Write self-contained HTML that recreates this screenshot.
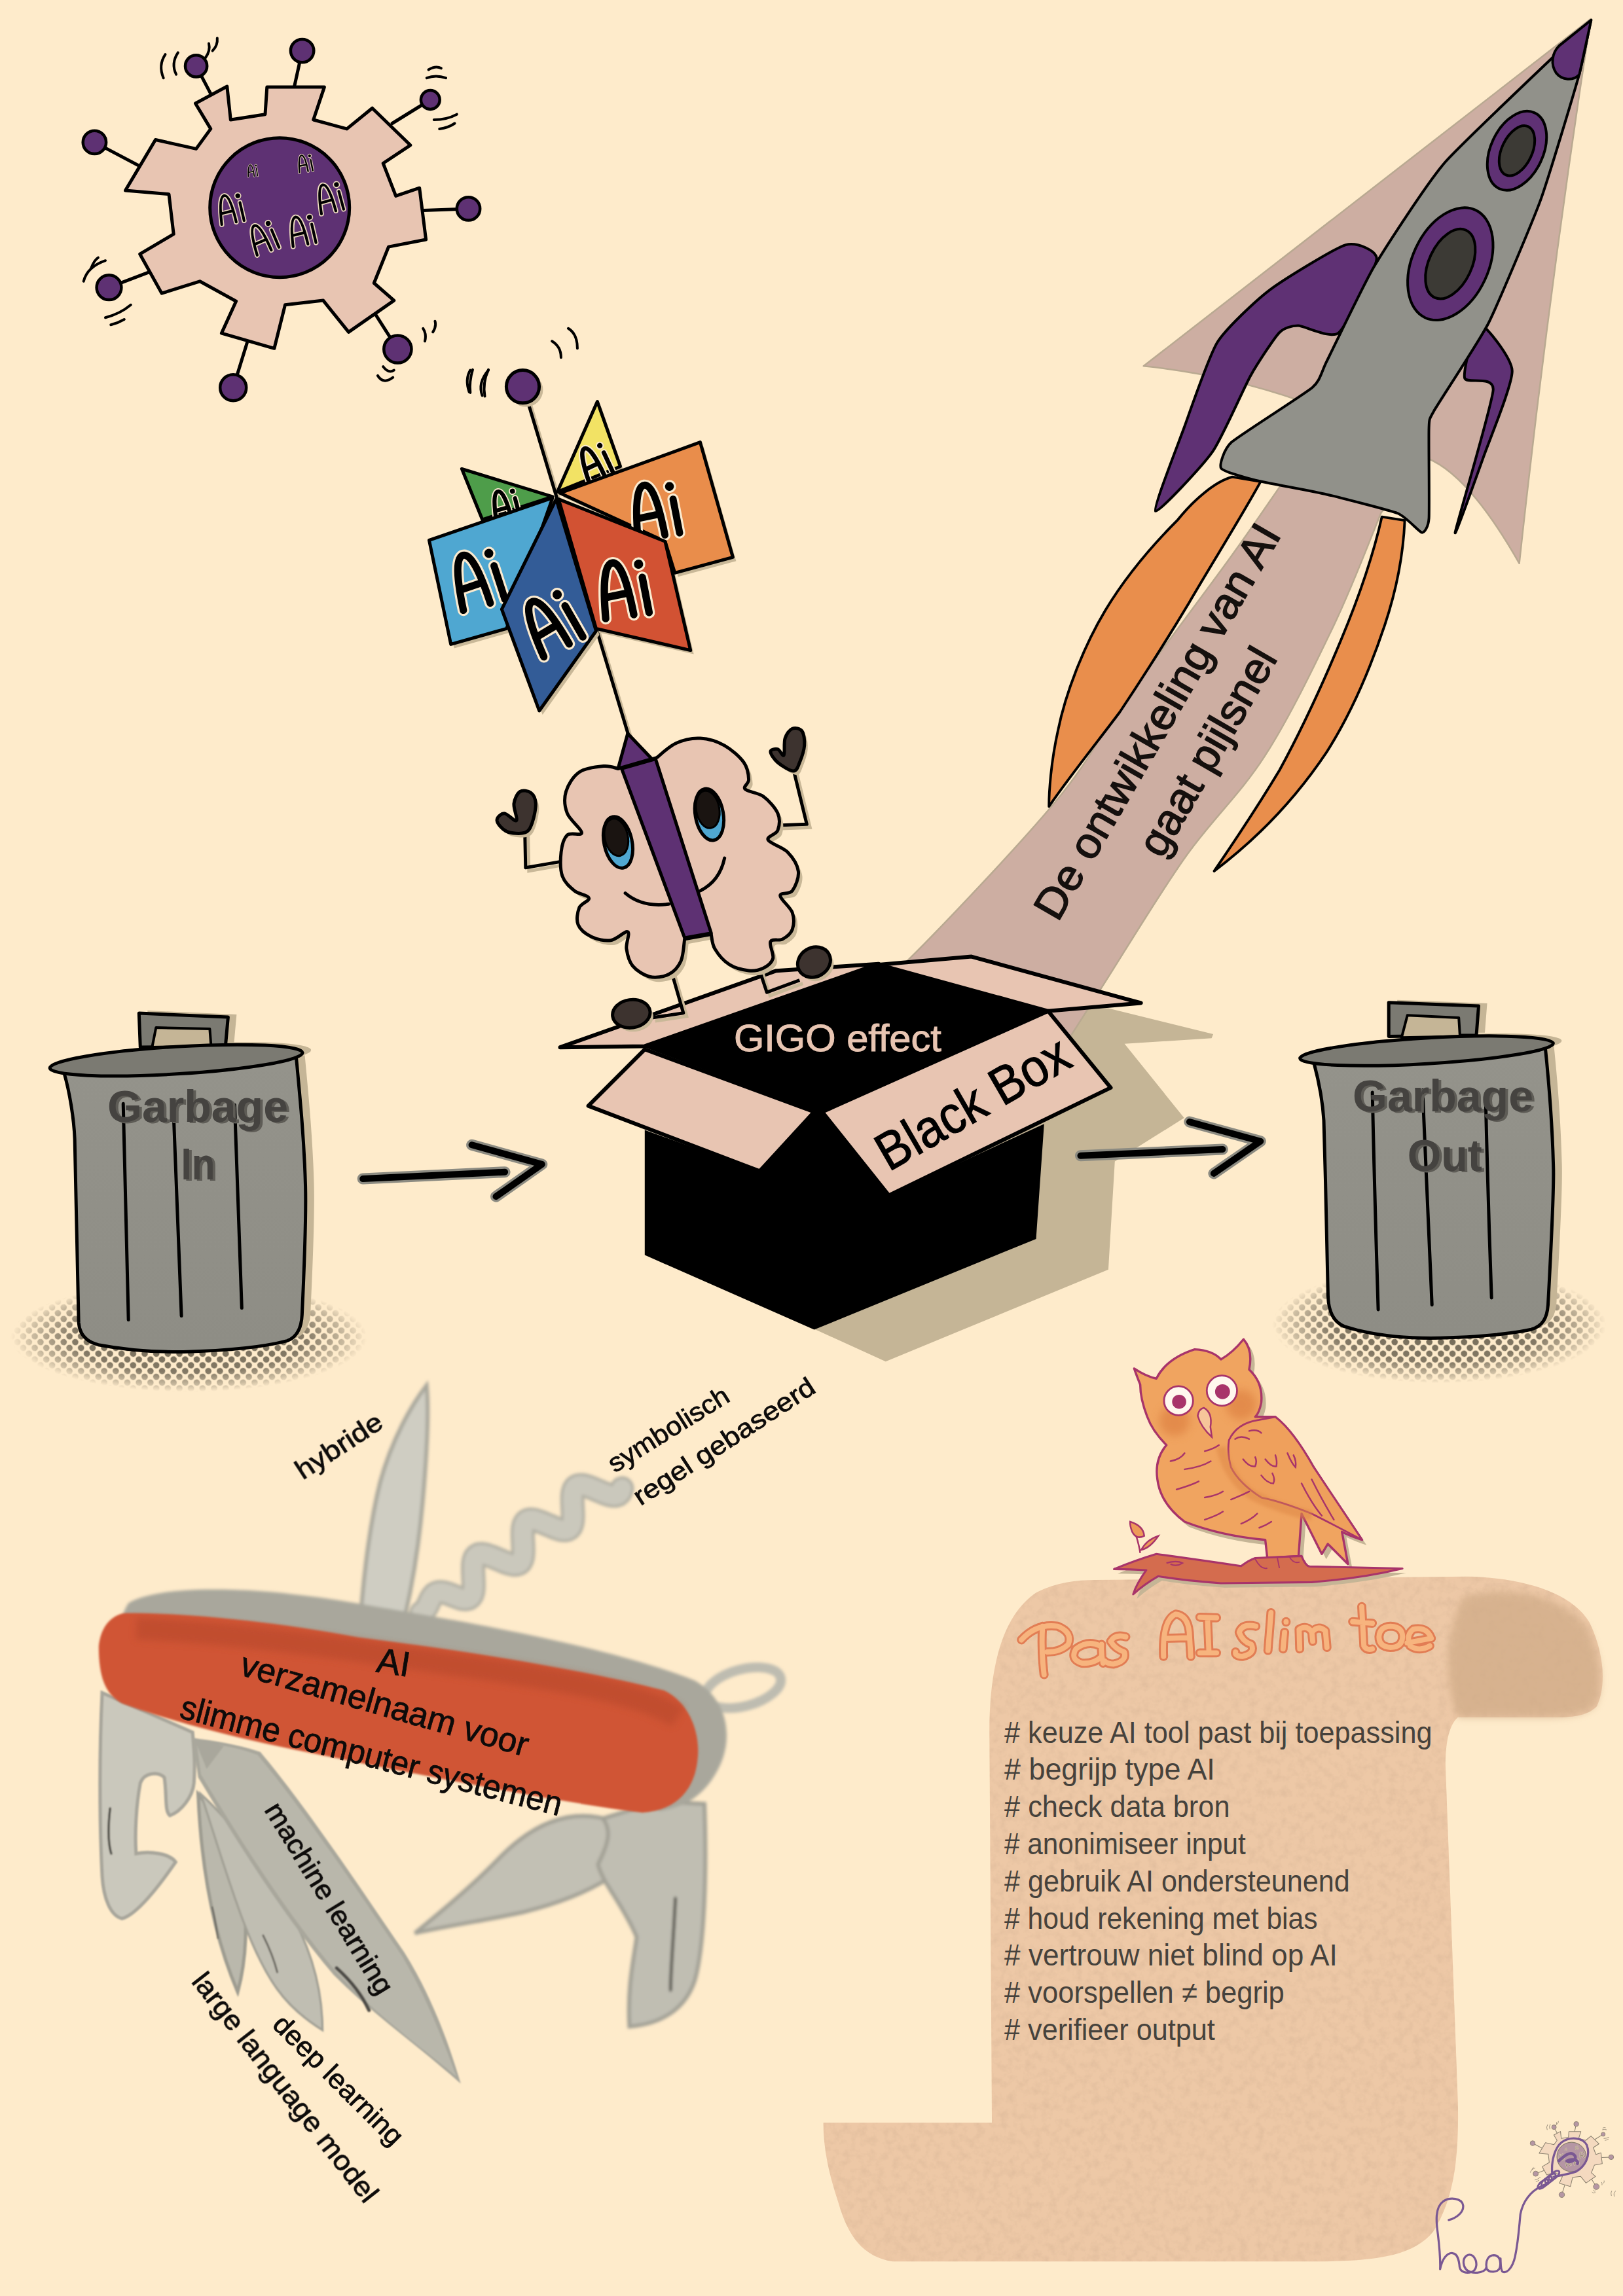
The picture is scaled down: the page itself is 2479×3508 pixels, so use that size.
<!DOCTYPE html>
<html><head><meta charset="utf-8"><title>AI poster</title>
<style>html,body{margin:0;padding:0;background:#FEEBCB;}svg{display:block;}</style></head>
<body><svg width="2479" height="3508" viewBox="0 0 2479 3508" font-family="Liberation Sans, sans-serif">
<defs>
<pattern id="dots" width="12.5" height="12.5" patternUnits="userSpaceOnUse" patternTransform="rotate(45)"><circle cx="6.25" cy="6.25" r="4.9" fill="#6E6553"/></pattern>
<radialGradient id="halog"><stop offset="0" stop-color="#fff" stop-opacity="1"/><stop offset="0.65" stop-color="#fff" stop-opacity="0.85"/><stop offset="0.88" stop-color="#fff" stop-opacity="0.35"/><stop offset="1" stop-color="#fff" stop-opacity="0"/></radialGradient>
<mask id="halomask" maskContentUnits="objectBoundingBox"><rect x="0" y="0" width="1" height="1" fill="url(#halog)"/></mask>
<linearGradient id="cangrad" x1="0" y1="0" x2="0" y2="1"><stop offset="0" stop-color="#94938B"/><stop offset="1" stop-color="#8E8D85"/></linearGradient>
<filter id="soft" x="-10%" y="-10%" width="120%" height="120%"><feGaussianBlur stdDeviation="3"/></filter>
<filter id="soft2" x="-10%" y="-10%" width="120%" height="120%"><feGaussianBlur stdDeviation="2.5"/></filter>
<filter id="blur20" x="-50%" y="-50%" width="200%" height="200%"><feGaussianBlur stdDeviation="20"/></filter>
<filter id="blur8" x="-50%" y="-50%" width="200%" height="200%"><feGaussianBlur stdDeviation="8"/></filter>
<filter id="paper" x="0" y="0" width="100%" height="100%"><feTurbulence type="fractalNoise" baseFrequency="0.06" numOctaves="3" seed="3"/><feColorMatrix type="matrix" values="0 0 0 0 0.45  0 0 0 0 0.3  0 0 0 0 0.2  0 0 0 2.2 -0.9"/><feComposite in2="SourceGraphic" operator="in"/></filter>
</defs>
<rect width="2479" height="3508" fill="#FEEBCB"/>
<line x1="449.4" y1="133.1" x2="461.6" y2="77.6" stroke="#000" stroke-width="5" stroke-linecap="round"/>
<line x1="321.8" y1="143.1" x2="299.6" y2="100.9" stroke="#000" stroke-width="5" stroke-linecap="round"/>
<line x1="213.7" y1="254" x2="144.4" y2="217.4" stroke="#000" stroke-width="5" stroke-linecap="round"/>
<line x1="227.5" y1="415.9" x2="166.5" y2="439.2" stroke="#000" stroke-width="5" stroke-linecap="round"/>
<line x1="377.3" y1="524" x2="356.2" y2="592.2" stroke="#000" stroke-width="5" stroke-linecap="round"/>
<line x1="571.3" y1="476.9" x2="607.4" y2="533.5" stroke="#000" stroke-width="5" stroke-linecap="round"/>
<line x1="646.2" y1="321.6" x2="715.5" y2="318.9" stroke="#000" stroke-width="5" stroke-linecap="round"/>
<line x1="599.1" y1="188.5" x2="657.3" y2="152.5" stroke="#000" stroke-width="5" stroke-linecap="round"/>
<circle cx="461.6" cy="77.6" r="17.7" fill="#5E3173" stroke="#000" stroke-width="4.5"/>
<circle cx="299.6" cy="100.9" r="16.6" fill="#5E3173" stroke="#000" stroke-width="4.5"/>
<circle cx="144.4" cy="217.4" r="17.7" fill="#5E3173" stroke="#000" stroke-width="4.5"/>
<circle cx="166.5" cy="439.2" r="18.9" fill="#5E3173" stroke="#000" stroke-width="4.5"/>
<circle cx="356.2" cy="592.2" r="20" fill="#5E3173" stroke="#000" stroke-width="4.5"/>
<circle cx="607.4" cy="533.5" r="21.1" fill="#5E3173" stroke="#000" stroke-width="4.5"/>
<circle cx="715.5" cy="318.9" r="17.7" fill="#5E3173" stroke="#000" stroke-width="4.5"/>
<circle cx="657.3" cy="152.5" r="14.4" fill="#5E3173" stroke="#000" stroke-width="4.5"/>
<path d="M407.8,133.1 L495.4,133.1 L478.7,183 L529.8,196.9 L568.6,165.2 L626.8,221.8 L585.2,249.5 L604.6,299.4 L640.7,287.2 L650.6,366 L593.5,377.1 L571.3,432.5 L601.8,459.1 L532.5,507.4 L493.7,459.1 L435.5,465.8 L418.9,532.3 L338.4,509.1 L360.6,460.3 L305.2,429.8 L247,448.1 L213.7,388.2 L265.2,357.7 L258,296.7 L191.5,291.1 L237.5,213.5 L299.6,227.4 L321.8,196.9 L298.5,158 L346.8,132 L352.3,183 L405,174.7 Z" fill="#E8C5B2" stroke="#000" stroke-width="5" stroke-linejoin="round"/>
<circle cx="427.2" cy="317.2" r="106.5" fill="#5E3173" stroke="#000" stroke-width="5"/>
<path d="M249.7,119.2 Q241.4,99.8 252.5,83.2" fill="none" stroke="#000" stroke-width="4" stroke-linecap="round"/>
<path d="M269.1,113.7 Q260.8,97 271.9,80.4" fill="none" stroke="#000" stroke-width="4" stroke-linecap="round"/>
<path d="M313.5,88.7 Q321.8,77.6 319,66.5" fill="none" stroke="#000" stroke-width="4" stroke-linecap="round"/>
<path d="M324.6,77.6 Q332.9,69.3 331.8,58.2" fill="none" stroke="#000" stroke-width="4" stroke-linecap="round"/>
<path d="M651.8,119.2 Q665.6,113.7 681.1,119.2" fill="none" stroke="#000" stroke-width="4" stroke-linecap="round"/>
<path d="M654.5,106.5 Q665.6,99.8 673.9,104.3" fill="none" stroke="#000" stroke-width="4" stroke-linecap="round"/>
<path d="M662.8,183 Q682.3,183 697.8,174.7" fill="none" stroke="#000" stroke-width="4" stroke-linecap="round"/>
<path d="M671.2,196.9 Q685,195.2 694.5,188.5" fill="none" stroke="#000" stroke-width="4" stroke-linecap="round"/>
<path d="M127.7,429.8 Q133.3,407.6 161,398.2" fill="none" stroke="#000" stroke-width="4" stroke-linecap="round"/>
<path d="M138.8,410.4 Q144.4,396.5 149.9,393.7" fill="none" stroke="#000" stroke-width="4" stroke-linecap="round"/>
<path d="M161,485.2 Q183.2,479.7 199.8,465.8" fill="none" stroke="#000" stroke-width="4" stroke-linecap="round"/>
<path d="M169.3,496.3 Q180.4,493.5 189.8,488" fill="none" stroke="#000" stroke-width="4" stroke-linecap="round"/>
<path d="M649,521.3 Q651.8,510.2 646.2,501.8" fill="none" stroke="#000" stroke-width="4" stroke-linecap="round"/>
<path d="M661.2,507.4 Q666.7,499.1 664.5,490.8" fill="none" stroke="#000" stroke-width="4" stroke-linecap="round"/>
<path d="M576.9,573.9 Q585.2,587.8 600.2,576.7" fill="none" stroke="#000" stroke-width="4" stroke-linecap="round"/>
<path d="M585.2,560.1 Q593.5,571.2 601.8,565.6" fill="none" stroke="#000" stroke-width="4" stroke-linecap="round"/>
<path d="M716.6,598.9 Q710,579.5 718.3,565.6" fill="none" stroke="#000" stroke-width="4" stroke-linecap="round"/>
<path d="M736.6,604.4 Q729.4,585 746,565.6" fill="none" stroke="#000" stroke-width="4" stroke-linecap="round"/>
<path d="M843.1,521.3 Q856.9,529.6 856.9,546.2" fill="none" stroke="#000" stroke-width="4" stroke-linecap="round"/>
<path d="M868,501.8 Q881.9,510.2 881.9,532.3" fill="none" stroke="#000" stroke-width="4" stroke-linecap="round"/>
<g transform="translate(352.3,318.9) rotate(-10.0) scale(48.80) translate(-0.36,-0.56)" fill="none" stroke-linecap="round" stroke-linejoin="round"><path d="M0,1 C0.03,0.45 0.1,0.12 0.23,0.12 C0.36,0.12 0.43,0.45 0.46,1 M0.08,0.66 L0.38,0.64 M0.68,0.42 L0.71,1" stroke="#EBD9BE" stroke-width="0.155"/><circle cx="0.65" cy="0.2" r="0.110" fill="#EBD9BE" stroke="none"/><path d="M0,1 C0.03,0.45 0.1,0.12 0.23,0.12 C0.36,0.12 0.43,0.45 0.46,1 M0.08,0.66 L0.38,0.64 M0.68,0.42 L0.71,1" stroke="#000" stroke-width="0.085"/><circle cx="0.65" cy="0.2" r="0.075" fill="#000" stroke="none"/></g>
<g transform="translate(402.2,363.2) rotate(-20.0) scale(49.91) translate(-0.36,-0.56)" fill="none" stroke-linecap="round" stroke-linejoin="round"><path d="M0,1 C0.03,0.45 0.1,0.12 0.23,0.12 C0.36,0.12 0.43,0.45 0.46,1 M0.08,0.66 L0.38,0.64 M0.68,0.42 L0.71,1" stroke="#EBD9BE" stroke-width="0.155"/><circle cx="0.65" cy="0.2" r="0.110" fill="#EBD9BE" stroke="none"/><path d="M0,1 C0.03,0.45 0.1,0.12 0.23,0.12 C0.36,0.12 0.43,0.45 0.46,1 M0.08,0.66 L0.38,0.64 M0.68,0.42 L0.71,1" stroke="#000" stroke-width="0.085"/><circle cx="0.65" cy="0.2" r="0.075" fill="#000" stroke="none"/></g>
<g transform="translate(461.6,352.1) rotate(-10.0) scale(49.91) translate(-0.36,-0.56)" fill="none" stroke-linecap="round" stroke-linejoin="round"><path d="M0,1 C0.03,0.45 0.1,0.12 0.23,0.12 C0.36,0.12 0.43,0.45 0.46,1 M0.08,0.66 L0.38,0.64 M0.68,0.42 L0.71,1" stroke="#EBD9BE" stroke-width="0.155"/><circle cx="0.65" cy="0.2" r="0.110" fill="#EBD9BE" stroke="none"/><path d="M0,1 C0.03,0.45 0.1,0.12 0.23,0.12 C0.36,0.12 0.43,0.45 0.46,1 M0.08,0.66 L0.38,0.64 M0.68,0.42 L0.71,1" stroke="#000" stroke-width="0.085"/><circle cx="0.65" cy="0.2" r="0.075" fill="#000" stroke="none"/></g>
<g transform="translate(503.7,302.2) rotate(-12.0) scale(48.80) translate(-0.36,-0.56)" fill="none" stroke-linecap="round" stroke-linejoin="round"><path d="M0,1 C0.03,0.45 0.1,0.12 0.23,0.12 C0.36,0.12 0.43,0.45 0.46,1 M0.08,0.66 L0.38,0.64 M0.68,0.42 L0.71,1" stroke="#EBD9BE" stroke-width="0.155"/><circle cx="0.65" cy="0.2" r="0.110" fill="#EBD9BE" stroke="none"/><path d="M0,1 C0.03,0.45 0.1,0.12 0.23,0.12 C0.36,0.12 0.43,0.45 0.46,1 M0.08,0.66 L0.38,0.64 M0.68,0.42 L0.71,1" stroke="#000" stroke-width="0.085"/><circle cx="0.65" cy="0.2" r="0.075" fill="#000" stroke="none"/></g>
<g transform="translate(466.0,249.5) rotate(-8.0) scale(28.84) translate(-0.36,-0.56)" fill="none" stroke-linecap="round" stroke-linejoin="round"><path d="M0,1 C0.03,0.45 0.1,0.12 0.23,0.12 C0.36,0.12 0.43,0.45 0.46,1 M0.08,0.66 L0.38,0.64 M0.68,0.42 L0.71,1" stroke="#EBD9BE" stroke-width="0.155"/><circle cx="0.65" cy="0.2" r="0.110" fill="#EBD9BE" stroke="none"/><path d="M0,1 C0.03,0.45 0.1,0.12 0.23,0.12 C0.36,0.12 0.43,0.45 0.46,1 M0.08,0.66 L0.38,0.64 M0.68,0.42 L0.71,1" stroke="#000" stroke-width="0.085"/><circle cx="0.65" cy="0.2" r="0.075" fill="#000" stroke="none"/></g>
<g transform="translate(385.6,260.6) rotate(-5.0) scale(19.96) translate(-0.36,-0.56)" fill="none" stroke-linecap="round" stroke-linejoin="round"><path d="M0,1 C0.03,0.45 0.1,0.12 0.23,0.12 C0.36,0.12 0.43,0.45 0.46,1 M0.08,0.66 L0.38,0.64 M0.68,0.42 L0.71,1" stroke="#EBD9BE" stroke-width="0.155"/><circle cx="0.65" cy="0.2" r="0.110" fill="#EBD9BE" stroke="none"/><path d="M0,1 C0.03,0.45 0.1,0.12 0.23,0.12 C0.36,0.12 0.43,0.45 0.46,1 M0.08,0.66 L0.38,0.64 M0.68,0.42 L0.71,1" stroke="#000" stroke-width="0.085"/><circle cx="0.65" cy="0.2" r="0.075" fill="#000" stroke="none"/></g>
<path d="M1244.4,2030.9 L1352.8,2080.2 L1692.9,1939.7 L1702.8,1774.6 L1808.7,1708.1 L1717.6,1594.7 L1850.6,1586.3 L1853.1,1579.9 L1692.9,1540.5 L1594.3,1542.9 L1446.5,1646.5 L1244.4,1745 Z" fill="#C5B596"/>
<path d="M2429.6,29 L1746.7,559.3 Q1870,572 1985,612 L1954.3,744.4 C1941.4,762.8 1915.5,801.7 1876.7,855.3 C1837.9,908.9 1765.8,1004.1 1721.4,1066 C1677.1,1127.9 1666,1160.3 1610.5,1226.8 C1555.1,1293.3 1434.9,1419.7 1388.7,1465.2 C1342.5,1510.8 1351.8,1483.5 1333.3,1500.2 C1314.8,1516.8 1287.1,1554.3 1277.8,1565.1 L1632.7,1587.2 C1642,1572.7 1658.6,1546.4 1688.2,1500.2 C1717.7,1454 1769.5,1367.6 1810.2,1310 C1850.8,1252.4 1894.3,1213.9 1932.2,1154.7 C1970.1,1095.6 2007.9,1017 2037.5,955.1 C2067.1,893.2 2097.6,811.8 2109.6,783.2 L2180,700 Q2244,726 2320.6,860.8 Q2365,450 2429.6,29 Z" fill="#CDAEA2" stroke="#B9A991" stroke-width="2.5" stroke-linejoin="round"/>
<text x="1787" y="1113.5" font-size="66" text-anchor="middle" transform="rotate(-60 1787 1113.5)" font-family="Liberation Sans" fill="#15100E" stroke="#15100E" stroke-width="1.5" textLength="685" lengthAdjust="spacingAndGlyphs">De ontwikkeling van AI</text>
<text x="1863.8" y="1159.6" font-size="66" text-anchor="middle" transform="rotate(-60 1863.8 1159.6)" font-family="Liberation Sans" fill="#15100E" stroke="#15100E" stroke-width="1.5" textLength="355" lengthAdjust="spacingAndGlyphs">gaat pijlsnel</text>
<g transform="translate(1300,600) scale(0.55453)" fill="#E98E4C" stroke="#000" stroke-width="7" stroke-linejoin="round">
<path d="M1050,232 C1000,245 940,300 900,350 C830,420 760,500 700,600 C640,700 590,830 570,930 C550,1020 545,1100 545,1140 C600,1060 680,960 740,880 C800,790 870,680 930,580 C1000,460 1070,350 1128,245 Z"/>
<path d="M1462,342 L1525,352 C1522,420 1510,520 1470,640 C1430,760 1380,880 1310,990 C1230,1110 1130,1220 1000,1318 C1060,1230 1120,1140 1180,1040 C1240,930 1300,800 1350,680 C1400,560 1440,440 1462,342 Z"/>
</g>
<path d="M2102.7,395.9 C2103.8,382.5 2071.8,369.4 2055.5,374.1 C2039.1,378.8 1958.9,428.2 1939.3,443.1 C1919.6,458 1872.4,502 1859.4,523 C1846.3,544.1 1817.9,628 1808.5,653.8 C1799.1,679.6 1760.6,777.3 1764.9,780.9 C1769.3,784.5 1837.6,710.8 1852.1,690.1 C1866.6,669.4 1900,592 1910.2,573.9 C1920.4,555.7 1946.5,516.1 1953.8,508.5 C1961.1,500.9 1973.8,497.6 1982.8,497.6 C1991.9,497.6 2032.6,518.7 2044.6,508.5 C2056.6,498.3 2101.6,409.3 2102.7,395.9 Z" fill="#5F3174" stroke="#000" stroke-width="4" stroke-linejoin="round"/>
<path d="M2258.9,494 C2266.2,492.9 2309,546.3 2309.7,566.6 C2310.5,587 2274.9,672.7 2266.2,697.4 C2257.4,722.1 2221.1,823.8 2222.6,813.6 C2224,803.4 2279.2,619.3 2280.7,595.7 C2282.1,572.1 2239.3,587.7 2237.1,577.5 C2234.9,567.3 2251.6,495.1 2258.9,494 Z" fill="#5F3174" stroke="#000" stroke-width="4" stroke-linejoin="round"/>
<path d="M2429.6,32.7 C2411.1,50.5 2235.6,215.8 2208,247 C2180.5,278.2 2114.2,381.4 2099.1,406.8 C2083.9,432.2 2034.3,536.7 2026.4,552.1 C2018.6,567.5 2016.7,581.8 2004.6,592 C1992.5,602.3 1892.8,665.3 1881.1,675.6 C1869.5,685.9 1862.1,710.7 1865.2,715.5 C1868.2,720.4 1904,730.4 1917.5,733.7 C1930.9,737 2008.3,751.3 2026.4,755.5 C2044.6,759.7 2123.3,779.7 2135.4,784.5 C2147.5,789.4 2167.8,813 2171.7,813.6 C2175.7,814.2 2181.7,805.1 2182.6,791.8 C2183.5,778.5 2182,667.4 2182.6,653.8 C2183.2,640.2 2182.3,641.7 2189.9,628.4 C2197.4,615 2259.8,520.9 2273.4,494 C2287,467 2341.8,336.6 2353.3,305.1 C2364.8,273.6 2405.1,138.9 2411.4,116.2 C2417.8,93.5 2428.1,39.7 2429.6,32.7 Z" fill="#91918A" stroke="#000" stroke-width="4" stroke-linejoin="round"/>
<g transform="translate(2150,0) scale(0.21774)"><path d="M1288,140 L1062,322 C1012,372 1002,452 1042,512 C1082,562 1162,572 1205,522 Z" fill="#5F3174" stroke="#000" stroke-width="18" stroke-linejoin="round"/></g>
<g transform="rotate(25 2317 230.3)"><ellipse cx="2317" cy="230.3" rx="40" ry="63.9" fill="#5F3174" stroke="#000" stroke-width="4"/><ellipse cx="2317" cy="230.3" rx="23.2" ry="40.7" fill="#3C3A35" stroke="#000" stroke-width="4"/></g>
<g transform="rotate(25 2215.3 403.2)"><ellipse cx="2215.3" cy="403.2" rx="58.1" ry="90.8" fill="#5F3174" stroke="#000" stroke-width="4"/><ellipse cx="2215.3" cy="403.2" rx="32.7" ry="56.7" fill="#3C3A35" stroke="#000" stroke-width="4"/></g>
<path d="M984.8,1726.6 L1160.4,1789.4 L1240.5,1689.6 L1259,1689.6 L1357.6,1826.4 L1594.8,1717.3 L1582.5,1892.9 L1243.6,2031.5 L984.8,1917.6 Z" fill="#000"/>
<path d="M984.8,1597.2 L1342.2,1473.9 L1601,1544.8 L1255.9,1698.8 Z" fill="#000" stroke="#000" stroke-width="6" stroke-linejoin="round"/>
<path d="M855.5,1600.2 L1185.7,1483.2 L1342.2,1472.7 L984.8,1598.4 Z" fill="#E8C5B2" stroke="#000" stroke-width="6" stroke-linejoin="round"/>
<path d="M1342.2,1473.9 L1483.9,1461.6 L1742.7,1532.5 L1601,1544.8 Z" fill="#E8C5B2" stroke="#000" stroke-width="6" stroke-linejoin="round"/>
<path d="M984.8,1603.3 L1243.6,1698.8 L1160.4,1789.4 L898.6,1689.6 Z" fill="#E8C5B2" stroke="#000" stroke-width="6" stroke-linejoin="round"/>
<path d="M1255.9,1698.8 L1601,1544.8 L1696.5,1661.9 L1357.6,1826.4 Z" fill="#E8C5B2" stroke="#000" stroke-width="6" stroke-linejoin="round"/>
<text x="1279.4" y="1605.8" font-size="58" text-anchor="middle" font-family="Liberation Sans" fill="#E8C5B2" stroke="#E8C5B2" stroke-width="1" textLength="317" lengthAdjust="spacingAndGlyphs">GIGO effect</text>
<text x="1499.3" y="1709.3" font-size="81" text-anchor="middle" transform="rotate(-29.9 1499.3 1709.3)" font-family="Liberation Sans" fill="#000" stroke="#000" stroke-width="1.2" textLength="327" lengthAdjust="spacingAndGlyphs">Black Box</text>
<line x1="807" y1="616.5" x2="959.3" y2="1121.2" stroke="#C9B898" stroke-width="5" transform="translate(4,4)"/>
<line x1="807" y1="616.5" x2="959.3" y2="1121.2" stroke="#000" stroke-width="5"/>
<circle cx="798.5" cy="590.7" r="25.9" fill="#C9B898" transform="translate(5,5)"/>
<circle cx="798.5" cy="590.7" r="25.1" fill="#5E3173" stroke="#000" stroke-width="5"/>
<path d="M851.4,751.5 L912.4,613.6 L947.5,712.7 Z" fill="#C9B898" transform="translate(5,6)"/>
<path d="M705.4,716.4 L844,758.9 L736.8,794 Z" fill="#C9B898" transform="translate(5,6)"/>
<path d="M855.1,753.3 L1069.5,675.7 L1119.4,851.3 L1030.7,875.3 L1015.9,827.3 Z" fill="#C9B898" transform="translate(5,6)"/>
<path d="M655.5,825.4 L844,760.7 L773.8,960.4 L688.7,984.4 Z" fill="#C9B898" transform="translate(5,6)"/>
<path d="M853.2,762.6 L1015.9,827.3 L1054.7,993.6 L910.5,960.4 Z" fill="#C9B898" transform="translate(5,6)"/>
<path d="M849.5,762.6 L766.4,930.8 L823.7,1086 L910.5,964 Z" fill="#C9B898" transform="translate(5,6)"/>
<path d="M851.4,751.5 L912.4,613.6 L947.5,712.7 Z" fill="#F2E264" stroke="#000" stroke-width="5" stroke-linejoin="round"/>
<g transform="translate(908.7,705.3) rotate(-22.0) scale(55.45) translate(-0.36,-0.56)" fill="none" stroke-linecap="round" stroke-linejoin="round"><path d="M0,1 C0.03,0.45 0.1,0.12 0.23,0.12 C0.36,0.12 0.43,0.45 0.46,1 M0.08,0.66 L0.38,0.64 M0.68,0.42 L0.71,1" stroke="#FBEBD0" stroke-width="0.190"/><circle cx="0.65" cy="0.2" r="0.110" fill="#FBEBD0" stroke="none"/><path d="M0,1 C0.03,0.45 0.1,0.12 0.23,0.12 C0.36,0.12 0.43,0.45 0.46,1 M0.08,0.66 L0.38,0.64 M0.68,0.42 L0.71,1" stroke="#000" stroke-width="0.120"/><circle cx="0.65" cy="0.2" r="0.075" fill="#000" stroke="none"/></g>
<path d="M705.4,716.4 L844,758.9 L736.8,794 Z" fill="#4E9D4A" stroke="#000" stroke-width="5" stroke-linejoin="round"/>
<g transform="translate(771.9,771.8) rotate(-12.0) scale(51.76) translate(-0.36,-0.56)" fill="none" stroke-linecap="round" stroke-linejoin="round"><path d="M0,1 C0.03,0.45 0.1,0.12 0.23,0.12 C0.36,0.12 0.43,0.45 0.46,1 M0.08,0.66 L0.38,0.64 M0.68,0.42 L0.71,1" stroke="#FBEBD0" stroke-width="0.190"/><circle cx="0.65" cy="0.2" r="0.110" fill="#FBEBD0" stroke="none"/><path d="M0,1 C0.03,0.45 0.1,0.12 0.23,0.12 C0.36,0.12 0.43,0.45 0.46,1 M0.08,0.66 L0.38,0.64 M0.68,0.42 L0.71,1" stroke="#000" stroke-width="0.120"/><circle cx="0.65" cy="0.2" r="0.075" fill="#000" stroke="none"/></g>
<path d="M855.1,753.3 L1069.5,675.7 L1119.4,851.3 L1030.7,875.3 L1015.9,827.3 Z" fill="#E98D4B" stroke="#000" stroke-width="5" stroke-linejoin="round"/>
<g transform="translate(1001.1,779.2) rotate(-8.0) scale(90.57) translate(-0.36,-0.56)" fill="none" stroke-linecap="round" stroke-linejoin="round"><path d="M0,1 C0.03,0.45 0.1,0.12 0.23,0.12 C0.36,0.12 0.43,0.45 0.46,1 M0.08,0.66 L0.38,0.64 M0.68,0.42 L0.71,1" stroke="#FBEBD0" stroke-width="0.190"/><circle cx="0.65" cy="0.2" r="0.110" fill="#FBEBD0" stroke="none"/><path d="M0,1 C0.03,0.45 0.1,0.12 0.23,0.12 C0.36,0.12 0.43,0.45 0.46,1 M0.08,0.66 L0.38,0.64 M0.68,0.42 L0.71,1" stroke="#000" stroke-width="0.120"/><circle cx="0.65" cy="0.2" r="0.075" fill="#000" stroke="none"/></g>
<path d="M655.5,825.4 L844,760.7 L773.8,960.4 L688.7,984.4 Z" fill="#4FA7D1" stroke="#000" stroke-width="5" stroke-linejoin="round"/>
<g transform="translate(729.4,884.6) rotate(-15.0) scale(92.42) translate(-0.36,-0.56)" fill="none" stroke-linecap="round" stroke-linejoin="round"><path d="M0,1 C0.03,0.45 0.1,0.12 0.23,0.12 C0.36,0.12 0.43,0.45 0.46,1 M0.08,0.66 L0.38,0.64 M0.68,0.42 L0.71,1" stroke="#FBEBD0" stroke-width="0.190"/><circle cx="0.65" cy="0.2" r="0.110" fill="#FBEBD0" stroke="none"/><path d="M0,1 C0.03,0.45 0.1,0.12 0.23,0.12 C0.36,0.12 0.43,0.45 0.46,1 M0.08,0.66 L0.38,0.64 M0.68,0.42 L0.71,1" stroke="#000" stroke-width="0.120"/><circle cx="0.65" cy="0.2" r="0.075" fill="#000" stroke="none"/></g>
<path d="M853.2,762.6 L1015.9,827.3 L1054.7,993.6 L910.5,960.4 Z" fill="#D25233" stroke="#000" stroke-width="5" stroke-linejoin="round"/>
<g transform="translate(953.0,899.4) rotate(-8.0) scale(94.27) translate(-0.36,-0.56)" fill="none" stroke-linecap="round" stroke-linejoin="round"><path d="M0,1 C0.03,0.45 0.1,0.12 0.23,0.12 C0.36,0.12 0.43,0.45 0.46,1 M0.08,0.66 L0.38,0.64 M0.68,0.42 L0.71,1" stroke="#FBEBD0" stroke-width="0.190"/><circle cx="0.65" cy="0.2" r="0.110" fill="#FBEBD0" stroke="none"/><path d="M0,1 C0.03,0.45 0.1,0.12 0.23,0.12 C0.36,0.12 0.43,0.45 0.46,1 M0.08,0.66 L0.38,0.64 M0.68,0.42 L0.71,1" stroke="#000" stroke-width="0.120"/><circle cx="0.65" cy="0.2" r="0.075" fill="#000" stroke="none"/></g>
<path d="M849.5,762.6 L766.4,930.8 L823.7,1086 L910.5,964 Z" fill="#335C97" stroke="#000" stroke-width="5" stroke-linejoin="round"/>
<g transform="translate(842.1,951.1) rotate(-27.0) scale(94.27) translate(-0.36,-0.56)" fill="none" stroke-linecap="round" stroke-linejoin="round"><path d="M0,1 C0.03,0.45 0.1,0.12 0.23,0.12 C0.36,0.12 0.43,0.45 0.46,1 M0.08,0.66 L0.38,0.64 M0.68,0.42 L0.71,1" stroke="#FBEBD0" stroke-width="0.190"/><circle cx="0.65" cy="0.2" r="0.110" fill="#FBEBD0" stroke="none"/><path d="M0,1 C0.03,0.45 0.1,0.12 0.23,0.12 C0.36,0.12 0.43,0.45 0.46,1 M0.08,0.66 L0.38,0.64 M0.68,0.42 L0.71,1" stroke="#000" stroke-width="0.120"/><circle cx="0.65" cy="0.2" r="0.075" fill="#000" stroke="none"/></g>
<path d="M722,564.8 Q716.5,583.3 718.3,599.9" fill="none" stroke="#000" stroke-width="4" stroke-linecap="round"/>
<path d="M746,564.8 Q736.8,585.1 740.5,605.5" fill="none" stroke="#000" stroke-width="4" stroke-linecap="round"/>
<path d="M855.3,1316.6 L802.8,1325.8 L801.7,1272.2" fill="none" stroke="#C9B898" stroke-width="5" transform="translate(5,5)"/>
<path d="M855.3,1316.6 L802.8,1325.8 L801.7,1272.2" fill="none" stroke="#000" stroke-width="5" stroke-linejoin="round"/>
<path d="M1188,1261.1 L1232.3,1259.3 L1212,1176.1" fill="none" stroke="#C9B898" stroke-width="5" transform="translate(5,5)"/>
<path d="M1188,1261.1 L1232.3,1259.3 L1212,1176.1" fill="none" stroke="#000" stroke-width="5" stroke-linejoin="round"/>
<path d="M1023.5,1477.4 L1043.8,1547.7 L995.7,1555" fill="none" stroke="#C9B898" stroke-width="5" transform="translate(5,5)"/>
<path d="M1023.5,1477.4 L1043.8,1547.7 L995.7,1555" fill="none" stroke="#000" stroke-width="5" stroke-linejoin="round"/>
<path d="M1160.3,1483 L1171.3,1516.2 L1221.3,1497.7" fill="none" stroke="#C9B898" stroke-width="5" transform="translate(5,5)"/>
<path d="M1160.3,1483 L1171.3,1516.2 L1221.3,1497.7" fill="none" stroke="#000" stroke-width="5" stroke-linejoin="round"/>
<path d="M801.7,1272.2 C795.2,1274.4 781,1273.5 773.9,1270.4 C766.9,1267.3 759.8,1258.4 759.1,1253.8 C758.5,1249.1 765.3,1242.7 770.2,1242.7 C775.2,1242.7 786.3,1256.2 788.7,1253.8 C791.2,1251.3 784.1,1235.3 785,1227.9 C786,1220.5 790,1212.2 794.3,1209.4 C798.6,1206.6 806.9,1208.2 810.9,1211.2 C814.9,1214.3 818,1220.2 818.3,1227.9 C818.6,1235.6 815.5,1250.1 812.8,1257.4 C810,1264.8 808.1,1270.1 801.7,1272.2 Z" fill="#C9B898" transform="translate(5,6)"/>
<path d="M801.7,1272.2 C795.2,1274.4 781,1273.5 773.9,1270.4 C766.9,1267.3 759.8,1258.4 759.1,1253.8 C758.5,1249.1 765.3,1242.7 770.2,1242.7 C775.2,1242.7 786.3,1256.2 788.7,1253.8 C791.2,1251.3 784.1,1235.3 785,1227.9 C786,1220.5 790,1212.2 794.3,1209.4 C798.6,1206.6 806.9,1208.2 810.9,1211.2 C814.9,1214.3 818,1220.2 818.3,1227.9 C818.6,1235.6 815.5,1250.1 812.8,1257.4 C810,1264.8 808.1,1270.1 801.7,1272.2 Z" fill="#3D332F" stroke="#000" stroke-width="5"/>
<path d="M1212,1178 C1206.5,1178 1193.8,1170 1188,1165 C1182.1,1160.1 1176.9,1151.8 1176.9,1148.4 C1176.9,1145 1184.6,1143.8 1188,1144.7 C1191.4,1145.6 1195.4,1156.7 1197.2,1153.9 C1199.1,1151.2 1196.9,1134.8 1199.1,1128.1 C1201.2,1121.3 1205.9,1115.1 1210.2,1113.3 C1214.5,1111.4 1221.9,1112.7 1225,1117 C1228,1121.3 1229.3,1131.1 1228.7,1139.1 C1228,1147.2 1224,1158.6 1221.3,1165 C1218.5,1171.5 1217.6,1178 1212,1178 Z" fill="#C9B898" transform="translate(5,6)"/>
<path d="M1212,1178 C1206.5,1178 1193.8,1170 1188,1165 C1182.1,1160.1 1176.9,1151.8 1176.9,1148.4 C1176.9,1145 1184.6,1143.8 1188,1144.7 C1191.4,1145.6 1195.4,1156.7 1197.2,1153.9 C1199.1,1151.2 1196.9,1134.8 1199.1,1128.1 C1201.2,1121.3 1205.9,1115.1 1210.2,1113.3 C1214.5,1111.4 1221.9,1112.7 1225,1117 C1228,1121.3 1229.3,1131.1 1228.7,1139.1 C1228,1147.2 1224,1158.6 1221.3,1165 C1218.5,1171.5 1217.6,1178 1212,1178 Z" fill="#3D332F" stroke="#000" stroke-width="5"/>
<ellipse cx="964.3" cy="1548.8" rx="28.8" ry="21.4" transform="translate(5,6) rotate(-8 964.3 1548.8)" fill="#C9B898"/>
<ellipse cx="964.3" cy="1548.8" rx="28.8" ry="21.4" transform="rotate(-8 964.3 1548.8)" fill="#3D332F" stroke="#000" stroke-width="5"/>
<ellipse cx="1243.4" cy="1470" rx="25.9" ry="22.2" transform="translate(5,6) rotate(-30 1243.4 1470)" fill="#C9B898"/>
<ellipse cx="1243.4" cy="1470" rx="25.9" ry="22.2" transform="rotate(-30 1243.4 1470)" fill="#3D332F" stroke="#000" stroke-width="5"/>
<path d="M944,1174.3 C940.3,1173.7 931.7,1169.6 921.8,1170.6 C912,1171.5 894.4,1173.3 884.8,1179.8 C875.3,1186.3 867.6,1198.9 864.5,1209.4 C861.4,1219.9 862.4,1232.2 866.4,1242.7 C870.4,1253.1 888.5,1266.7 888.5,1272.2 C888.5,1277.8 871.6,1271 866.4,1275.9 C861.1,1280.9 858.3,1291.3 857.1,1301.8 C855.9,1312.3 855.6,1328.9 859,1338.8 C862.4,1348.6 870.7,1355.4 877.4,1361 C884.2,1366.5 898.4,1367.7 899.6,1372.1 C900.9,1376.4 887.6,1380.1 884.8,1386.8 C882.1,1393.6 879.9,1405.3 883,1412.7 C886.1,1420.1 895,1427.2 903.3,1431.2 C911.6,1435.2 923.7,1438 932.9,1436.7 C942.1,1435.5 954.8,1421.7 958.8,1423.8 C962.8,1426 955.7,1441.1 956.9,1449.7 C958.2,1458.3 960.3,1468.5 966.2,1475.6 C972,1482.6 982.8,1490 992.1,1492.2 C1001.3,1494.4 1013.6,1492.5 1021.6,1488.5 C1029.6,1484.5 1036.1,1477.1 1040.1,1468.2 C1044.1,1459.2 1044.7,1440.4 1045.7,1434.9 L1086.3,1427.5 C1087.2,1431.2 1087.2,1442 1091.9,1449.7 C1096.5,1457.4 1105.4,1468.2 1114,1473.7 C1122.7,1479.3 1135,1482 1143.6,1483 C1152.2,1483.9 1159.6,1482.3 1165.8,1479.3 C1172,1476.2 1178.7,1471.3 1180.6,1464.5 C1182.4,1457.7 1174.4,1443.5 1176.9,1438.6 C1179.4,1433.7 1189.8,1438 1195.4,1434.9 C1200.9,1431.8 1207.7,1426.9 1210.2,1420.1 C1212.6,1413.3 1213.2,1402.9 1210.2,1394.2 C1207.1,1385.6 1191.7,1373.9 1191.7,1368.4 C1191.7,1362.8 1205.5,1367.1 1210.2,1361 C1214.8,1354.8 1220.6,1341.2 1219.4,1331.4 C1218.2,1321.5 1210.5,1309.8 1202.8,1301.8 C1195.1,1293.8 1175.7,1288.9 1173.2,1283.3 C1170.7,1277.8 1185.5,1275.3 1188,1268.5 C1190.4,1261.8 1191.7,1251.3 1188,1242.7 C1184.3,1234 1174.1,1222.9 1165.8,1216.8 C1157.5,1210.6 1141.8,1210 1138.1,1205.7 C1134.4,1201.4 1143.9,1197.7 1143.6,1190.9 C1143.3,1184.1 1142.4,1173.7 1136.2,1165 C1130.1,1156.4 1117.7,1145.3 1106.7,1139.1 C1095.6,1133 1082,1128.7 1069.7,1128.1 C1057.4,1127.4 1043.8,1130.5 1032.7,1135.5 C1021.6,1140.4 1008.1,1153.9 1003.1,1157.6 Z" fill="#C9B898" transform="translate(6,7)"/>
<path d="M944,1174.3 C940.3,1173.7 931.7,1169.6 921.8,1170.6 C912,1171.5 894.4,1173.3 884.8,1179.8 C875.3,1186.3 867.6,1198.9 864.5,1209.4 C861.4,1219.9 862.4,1232.2 866.4,1242.7 C870.4,1253.1 888.5,1266.7 888.5,1272.2 C888.5,1277.8 871.6,1271 866.4,1275.9 C861.1,1280.9 858.3,1291.3 857.1,1301.8 C855.9,1312.3 855.6,1328.9 859,1338.8 C862.4,1348.6 870.7,1355.4 877.4,1361 C884.2,1366.5 898.4,1367.7 899.6,1372.1 C900.9,1376.4 887.6,1380.1 884.8,1386.8 C882.1,1393.6 879.9,1405.3 883,1412.7 C886.1,1420.1 895,1427.2 903.3,1431.2 C911.6,1435.2 923.7,1438 932.9,1436.7 C942.1,1435.5 954.8,1421.7 958.8,1423.8 C962.8,1426 955.7,1441.1 956.9,1449.7 C958.2,1458.3 960.3,1468.5 966.2,1475.6 C972,1482.6 982.8,1490 992.1,1492.2 C1001.3,1494.4 1013.6,1492.5 1021.6,1488.5 C1029.6,1484.5 1036.1,1477.1 1040.1,1468.2 C1044.1,1459.2 1044.7,1440.4 1045.7,1434.9 L1086.3,1427.5 C1087.2,1431.2 1087.2,1442 1091.9,1449.7 C1096.5,1457.4 1105.4,1468.2 1114,1473.7 C1122.7,1479.3 1135,1482 1143.6,1483 C1152.2,1483.9 1159.6,1482.3 1165.8,1479.3 C1172,1476.2 1178.7,1471.3 1180.6,1464.5 C1182.4,1457.7 1174.4,1443.5 1176.9,1438.6 C1179.4,1433.7 1189.8,1438 1195.4,1434.9 C1200.9,1431.8 1207.7,1426.9 1210.2,1420.1 C1212.6,1413.3 1213.2,1402.9 1210.2,1394.2 C1207.1,1385.6 1191.7,1373.9 1191.7,1368.4 C1191.7,1362.8 1205.5,1367.1 1210.2,1361 C1214.8,1354.8 1220.6,1341.2 1219.4,1331.4 C1218.2,1321.5 1210.5,1309.8 1202.8,1301.8 C1195.1,1293.8 1175.7,1288.9 1173.2,1283.3 C1170.7,1277.8 1185.5,1275.3 1188,1268.5 C1190.4,1261.8 1191.7,1251.3 1188,1242.7 C1184.3,1234 1174.1,1222.9 1165.8,1216.8 C1157.5,1210.6 1141.8,1210 1138.1,1205.7 C1134.4,1201.4 1143.9,1197.7 1143.6,1190.9 C1143.3,1184.1 1142.4,1173.7 1136.2,1165 C1130.1,1156.4 1117.7,1145.3 1106.7,1139.1 C1095.6,1133 1082,1128.7 1069.7,1128.1 C1057.4,1127.4 1043.8,1130.5 1032.7,1135.5 C1021.6,1140.4 1008.1,1153.9 1003.1,1157.6 Z" fill="#E8C5B2" stroke="#000" stroke-width="5" stroke-linejoin="round"/>
<g transform="rotate(-12 944 1287)"><ellipse cx="944" cy="1287" rx="21.4" ry="39.9" fill="#4FA7D1" stroke="#000" stroke-width="5"/><ellipse cx="943" cy="1278.9" rx="17.7" ry="28.8" fill="#1A1411" stroke="#000" stroke-width="3"/></g>
<g transform="rotate(-10 1083.4 1244.5)"><ellipse cx="1083.4" cy="1244.5" rx="21.4" ry="39.9" fill="#4FA7D1" stroke="#000" stroke-width="5"/><ellipse cx="1082.4" cy="1236.4" rx="17.7" ry="28.8" fill="#1A1411" stroke="#000" stroke-width="3"/></g>
<path d="M955.1,1364.7 Q981,1386.8 1021.6,1381.3" fill="none" stroke="#000" stroke-width="5" stroke-linecap="round"/>
<path d="M1069.7,1361 Q1099.3,1346.2 1106.7,1311.1" fill="none" stroke="#000" stroke-width="5" stroke-linecap="round"/>
<path d="M944,1174.3 L958.8,1120.7 L995.7,1159.5 Z" fill="#5E3173" stroke="#000" stroke-width="5" stroke-linejoin="round"/>
<path d="M949.5,1174.3 L1001.3,1159.5 L1086.3,1425.7 L1045.7,1433 Z" fill="#5E3173" stroke="#000" stroke-width="5" stroke-linejoin="round"/>
<line x1="554.2" y1="1801" x2="771.1" y2="1790.7" stroke="#8C8B82" stroke-width="17" stroke-linecap="round"/>
<path d="M720.6,1749.3 L827.8,1778.9 L757.5,1828.2" fill="none" stroke="#8C8B82" stroke-width="17" stroke-linecap="round" stroke-linejoin="round"/>
<line x1="554.2" y1="1801" x2="771.1" y2="1790.7" stroke="#000" stroke-width="10" stroke-linecap="round"/>
<path d="M720.6,1749.3 L827.8,1778.9 L757.5,1828.2" fill="none" stroke="#000" stroke-width="10" stroke-linecap="round" stroke-linejoin="round"/>
<line x1="1650.5" y1="1765.8" x2="1867.4" y2="1756" stroke="#8C8B82" stroke-width="17" stroke-linecap="round"/>
<path d="M1816.9,1714.1 L1925.3,1743.7 L1853.9,1792.9" fill="none" stroke="#8C8B82" stroke-width="17" stroke-linecap="round" stroke-linejoin="round"/>
<line x1="1650.5" y1="1765.8" x2="1867.4" y2="1756" stroke="#000" stroke-width="10" stroke-linecap="round"/>
<path d="M1816.9,1714.1 L1925.3,1743.7 L1853.9,1792.9" fill="none" stroke="#000" stroke-width="10" stroke-linecap="round" stroke-linejoin="round"/>
<ellipse cx="288.4" cy="2042.7" rx="272.3" ry="84.1" fill="url(#dots)" mask="url(#halomask)" />
<g transform="translate(13,-4)" fill="#C5B596"><path d="M212.3,1548.1 L348.4,1554.1 L344.4,1598.1 L214.3,1600.1 Z"/><path d="M245,350 C265,420 282,520 285,600 C290,800 295,1100 300,1300 C303,1340 325,1372 375,1385 C480,1405 600,1413 700,1412 C850,1408 1000,1395 1095,1370 C1135,1355 1150,1315 1152,1270 C1160,1100 1168,900 1165,780 C1160,600 1145,450 1130,290" transform="translate(0,1500) scale(0.40049)" /><ellipse cx="269.1" cy="1620.1" rx="193.4" ry="20.8" transform="rotate(-3.5 269.1 1620.1)"/></g>
<path d="M212.3,1548.1 L348.4,1554.1 L344.4,1598.1 L214.3,1600.1 Z" fill="#7B7A72" stroke="#000" stroke-width="5" stroke-linejoin="round"/>
<path d="M238.3,1570.1 L320.4,1572.1 L322.4,1598.1 L232.3,1600.1 Z" fill="#C5B596" stroke="#000" stroke-width="4" stroke-linejoin="round"/>
<path d="M245,350 C265,420 282,520 285,600 C290,800 295,1100 300,1300 C303,1340 325,1372 375,1385 C480,1405 600,1413 700,1412 C850,1408 1000,1395 1095,1370 C1135,1355 1150,1315 1152,1270 C1160,1100 1168,900 1165,780 C1160,600 1145,450 1130,290" transform="translate(0,1500) scale(0.40049)" fill="url(#cangrad)" stroke="#000" stroke-width="12.48" stroke-linejoin="round"/>
<ellipse cx="269.1" cy="1620.1" rx="193.4" ry="20.8" transform="rotate(-3.5 269.1 1620.1)" fill="#7B7A72" stroke="#000" stroke-width="5"/>
<path d="M188.2,1686.2 Q192.2,1852.4 196.2,2016.6" fill="none" stroke="#000" stroke-width="5" stroke-linecap="round"/>
<path d="M264.3,1680.2 Q270.3,1844.4 277.1,2010.6" fill="none" stroke="#000" stroke-width="5" stroke-linecap="round"/>
<path d="M358.4,1688.2 Q364.4,1844.4 369.3,1998.6" fill="none" stroke="#000" stroke-width="5" stroke-linecap="round"/>
<text x="302" y="1714.3" font-size="68" text-anchor="middle" font-family="Liberation Sans" font-weight="bold" fill="#5E5C56" transform="translate(4,2)" textLength="276" lengthAdjust="spacingAndGlyphs">Garbage</text>
<text x="302" y="1714.3" font-size="68" text-anchor="middle" font-family="Liberation Sans" font-weight="bold" fill="#454340" textLength="276" lengthAdjust="spacingAndGlyphs">Garbage</text>
<text x="302.4" y="1802.4" font-size="68" text-anchor="middle" font-family="Liberation Sans" font-weight="bold" fill="#5E5C56" transform="translate(4,2)" textLength="52" lengthAdjust="spacingAndGlyphs">In</text>
<text x="302.4" y="1802.4" font-size="68" text-anchor="middle" font-family="Liberation Sans" font-weight="bold" fill="#454340" textLength="52" lengthAdjust="spacingAndGlyphs">In</text>
<ellipse cx="2198.2" cy="2024" rx="255.1" ry="89.2" fill="url(#dots)" mask="url(#halomask)" />
<g transform="translate(13,-4)" fill="#C5B596"><path d="M2121.2,1531.7 L2258.5,1537.1 L2255,1581.7 L2121.2,1583.5 Z"/><path d="M300,405 C320,480 338,580 342,650 C350,900 355,1200 360,1400 C362,1470 385,1515 430,1532 C540,1568 680,1582 800,1582 C960,1580 1120,1568 1230,1545 C1280,1530 1298,1495 1302,1440 C1315,1200 1328,950 1325,850 C1320,650 1305,480 1290,335" transform="translate(1900,1480) scale(0.35675)" /><ellipse cx="2179" cy="1605.6" rx="193.7" ry="19.6" transform="rotate(-3.4 2179 1605.6)"/></g>
<path d="M2121.2,1531.7 L2258.5,1537.1 L2255,1581.7 L2121.2,1583.5 Z" fill="#7B7A72" stroke="#000" stroke-width="5" stroke-linejoin="round"/>
<path d="M2149.7,1551.3 L2228.2,1554.9 L2230,1583.5 L2140.8,1585.2 Z" fill="#C5B596" stroke="#000" stroke-width="4" stroke-linejoin="round"/>
<path d="M300,405 C320,480 338,580 342,650 C350,900 355,1200 360,1400 C362,1470 385,1515 430,1532 C540,1568 680,1582 800,1582 C960,1580 1120,1568 1230,1545 C1280,1530 1298,1495 1302,1440 C1315,1200 1328,950 1325,850 C1320,650 1305,480 1290,335" transform="translate(1900,1480) scale(0.35675)" fill="url(#cangrad)" stroke="#000" stroke-width="14.02" stroke-linejoin="round"/>
<ellipse cx="2179" cy="1605.6" rx="193.7" ry="19.6" transform="rotate(-3.4 2179 1605.6)" fill="#7B7A72" stroke="#000" stroke-width="5"/>
<path d="M2096.2,1669.1 Q2099.8,1836.7 2105.1,2000.9" fill="none" stroke="#000" stroke-width="5" stroke-linecap="round"/>
<path d="M2172.9,1665.5 Q2180,1829.6 2187.2,1993.7" fill="none" stroke="#000" stroke-width="5" stroke-linecap="round"/>
<path d="M2269.2,1679.8 Q2272.8,1833.2 2278.2,1983" fill="none" stroke="#000" stroke-width="5" stroke-linecap="round"/>
<text x="2204" y="1697.6" font-size="68" text-anchor="middle" font-family="Liberation Sans" font-weight="bold" fill="#5E5C56" transform="translate(4,2)" textLength="276" lengthAdjust="spacingAndGlyphs">Garbage</text>
<text x="2204" y="1697.6" font-size="68" text-anchor="middle" font-family="Liberation Sans" font-weight="bold" fill="#454340" textLength="276" lengthAdjust="spacingAndGlyphs">Garbage</text>
<text x="2206.8" y="1788.6" font-size="68" text-anchor="middle" font-family="Liberation Sans" font-weight="bold" fill="#5E5C56" transform="translate(4,2)" textLength="114" lengthAdjust="spacingAndGlyphs">Out</text>
<text x="2206.8" y="1788.6" font-size="68" text-anchor="middle" font-family="Liberation Sans" font-weight="bold" fill="#454340" textLength="114" lengthAdjust="spacingAndGlyphs">Out</text>
<g transform="translate(100,2050) scale(0.73937)" filter="url(#soft)">
<path d="M735.0,560.0 L739.1,557.3 L742.6,553.8 L745.6,549.7 L748.2,544.9 L750.6,539.8 L752.9,534.6 L755.4,529.6 L758.3,525.2 L761.7,521.6 L765.8,519.0 L770.8,517.6 L776.7,517.6 L783.4,518.7 L790.8,520.8 L798.8,523.8 L807.1,527.1 L815.1,530.1 L822.1,531.6 L828.1,531.8 L833.1,530.5 L837.1,527.7 L840.0,523.3 L841.8,517.4 L842.8,510.3 L843.1,502.1 L842.8,493.2 L842.4,484.1 L842.0,474.9 L841.9,466.3 L842.3,458.3 L843.5,451.5 L845.6,446.0 L848.8,442.0 L853.0,439.6 L858.3,438.7 L864.7,439.3 L871.8,441.1 L879.7,443.8 L887.9,447.2 L896.4,450.8 L904.8,454.3 L912.8,457.4 L920.3,459.5 L926.9,460.6 L932.6,460.2 L937.3,458.4 L940.8,455.0 L943.3,450.0 L944.8,443.7 L945.5,436.1 L945.6,427.7 L945.3,418.7 L944.8,409.5 L944.5,400.5 L944.5,392.0 L945.2,384.5 L946.7,378.1 L949.2,373.1 L952.7,369.7 L957.4,367.8 L963.1,367.5 L969.7,368.5 L977.1,370.7 L985.2,373.7 L993.5,377.2 L1002.0,380.8 L1010.3,384.2 L1018.1,387.0 L1025.3,388.8 L1031.6,389.3 L1037.0,388.5 L1041.2,386.1 L1044.4,382.1 L1046.5,376.6 L1047.7,369.8 L1048.2,361.9 L1048.1,353.2 L1047.7,344.1 L1047.2,334.9 L1047.0,326.1 L1047.2,317.9 L1048.2,310.8 L1050.1,304.9 L1052.9,300.4 L1056.8,297.6 L1061.9,296.3 L1067.9,296.4 L1074.9,297.9 L1082.5,300.4 L1090.7,303.6 L1099.1,307.2 L1107.6,310.8 L1115.7,314.0 L1123.4,316.5 L1130.2,317.8 L1136.2,317.9 L1141.2,316.5 L1145.1,313.5 L1147.8,309.0 L1149.6,303.0" fill="none" stroke="#B3B1A5" stroke-width="50" stroke-linecap="round" stroke-linejoin="round"/>
<path d="M735.0,560.0 L739.1,557.3 L742.6,553.8 L745.6,549.7 L748.2,544.9 L750.6,539.8 L752.9,534.6 L755.4,529.6 L758.3,525.2 L761.7,521.6 L765.8,519.0 L770.8,517.6 L776.7,517.6 L783.4,518.7 L790.8,520.8 L798.8,523.8 L807.1,527.1 L815.1,530.1 L822.1,531.6 L828.1,531.8 L833.1,530.5 L837.1,527.7 L840.0,523.3 L841.8,517.4 L842.8,510.3 L843.1,502.1 L842.8,493.2 L842.4,484.1 L842.0,474.9 L841.9,466.3 L842.3,458.3 L843.5,451.5 L845.6,446.0 L848.8,442.0 L853.0,439.6 L858.3,438.7 L864.7,439.3 L871.8,441.1 L879.7,443.8 L887.9,447.2 L896.4,450.8 L904.8,454.3 L912.8,457.4 L920.3,459.5 L926.9,460.6 L932.6,460.2 L937.3,458.4 L940.8,455.0 L943.3,450.0 L944.8,443.7 L945.5,436.1 L945.6,427.7 L945.3,418.7 L944.8,409.5 L944.5,400.5 L944.5,392.0 L945.2,384.5 L946.7,378.1 L949.2,373.1 L952.7,369.7 L957.4,367.8 L963.1,367.5 L969.7,368.5 L977.1,370.7 L985.2,373.7 L993.5,377.2 L1002.0,380.8 L1010.3,384.2 L1018.1,387.0 L1025.3,388.8 L1031.6,389.3 L1037.0,388.5 L1041.2,386.1 L1044.4,382.1 L1046.5,376.6 L1047.7,369.8 L1048.2,361.9 L1048.1,353.2 L1047.7,344.1 L1047.2,334.9 L1047.0,326.1 L1047.2,317.9 L1048.2,310.8 L1050.1,304.9 L1052.9,300.4 L1056.8,297.6 L1061.9,296.3 L1067.9,296.4 L1074.9,297.9 L1082.5,300.4 L1090.7,303.6 L1099.1,307.2 L1107.6,310.8 L1115.7,314.0 L1123.4,316.5 L1130.2,317.8 L1136.2,317.9 L1141.2,316.5 L1145.1,313.5 L1147.8,309.0 L1149.6,303.0" fill="none" stroke="#CAC8BC" stroke-width="38" stroke-linecap="round" stroke-linejoin="round"/>
<path d="M607,612 C612,520 625,390 650,290 C675,200 715,130 746,90 C752,150 745,250 738,330 C730,420 715,520 690,612 Z" fill="#CFCDC2" stroke="#A9A79C" stroke-width="8"/>
<path d="M1130,990 C1040,960 960,1000 893,1070 C830,1135 760,1190 722,1222 C800,1205 900,1190 948,1178 C1020,1160 1080,1135 1120,1110 C1140,1070 1140,1030 1130,990 Z" fill="#C2C0B4" stroke="#A3A196" stroke-width="8"/>
<path d="M1225,950 L1320,955 C1325,1100 1320,1250 1300,1320 C1280,1380 1230,1410 1165,1415 C1160,1330 1175,1270 1180,1230 C1150,1160 1110,1120 1100,1080 C1120,1040 1130,1010 1110,985 Z" fill="#C0BEB2" stroke="#A3A196" stroke-width="8"/>
<path d="M1260,1150 C1255,1250 1250,1300 1250,1340" fill="none" stroke="#4A4842" stroke-width="6" stroke-linecap="round"/>
<ellipse cx="1400" cy="715" rx="80" ry="38" transform="rotate(-15 1400 715)" fill="none" stroke="#BEBCB0" stroke-width="20"/>
<path d="M130,540 C200,500 400,505 600,540 C900,590 1150,640 1300,700 C1370,740 1380,820 1350,880 C1320,940 1280,960 1230,970 L200,760 C120,720 90,600 130,540 Z" fill="#A9A79C"/>
</g>
<g transform="translate(100,2500) scale(0.43129)" filter="url(#soft)">
<path d="M130,200 C120,400 120,650 130,850 C135,930 160,990 200,1000 C240,990 300,930 390,800 C370,770 300,760 250,770 C245,700 250,600 265,520 C280,480 330,480 350,500 C360,560 350,620 370,635 C410,620 450,570 455,520 C460,450 455,400 450,340 Z" fill="#CAC8BC" stroke="#A8A69B" stroke-width="12"/>
<path d="M158,610 C150,680 150,730 162,770" fill="none" stroke="#4A4842" stroke-width="8" stroke-linecap="round"/>
<path d="M470,560 C480,800 520,1050 610,1260 C640,1150 650,1000 620,860 C590,740 540,640 470,560 Z" fill="#BAB8AC" stroke="#9E9C91" stroke-width="12"/>
<path d="M480,560 C560,800 640,1100 750,1250 C800,1320 870,1370 910,1395 C910,1250 870,1100 780,950 C690,800 580,650 480,560 Z" fill="#C0BEB2" stroke="#A3A196" stroke-width="8"/>
<path d="M700,1060 C720,1100 740,1150 750,1190" fill="none" stroke="#6A6860" stroke-width="7" stroke-linecap="round"/>
<path d="M520,960 C530,1000 535,1040 540,1070" fill="none" stroke="#6A6860" stroke-width="6" stroke-linecap="round"/>
<path d="M450,360 C520,370 600,380 690,410 C850,600 1050,900 1200,1120 C1300,1280 1360,1450 1400,1585 C1250,1450 1100,1350 950,1200 C780,1000 620,750 470,500 Z" fill="#A9A79C"/>
<path d="M465,380 C520,380 600,390 680,420 C840,610 1040,910 1190,1130 C1280,1280 1340,1440 1385,1560 C1240,1440 1100,1340 960,1190 C790,990 630,740 480,490 Z" fill="#B9B7AB"/>
<path d="M960,1175 C1010,1220 1050,1270 1075,1325" fill="none" stroke="#4E4C46" stroke-width="12" stroke-linecap="round"/>
<path d="M455,360 L560,390 L500,470 Z" fill="#A9A79C"/>
</g>
<g transform="translate(100,2400) scale(0.67776)">
<path d="M140,95 C300,95 500,120 660,150 C900,180 1150,220 1350,270 C1410,300 1430,370 1425,420 C1420,490 1380,540 1300,545 C1100,520 800,460 600,420 C450,390 300,360 130,300 C90,280 75,240 75,170 C80,120 110,95 140,95 Z" fill="#D05434" filter="url(#soft2)"/>
<path d="M160,130 C400,140 700,185 1000,230 C1200,260 1320,290 1380,330" fill="none" stroke="#B5472B" stroke-width="50" opacity="0.55" filter="url(#blur8)"/>
</g>
<text x="601.5" y="2558.4" font-size="54" text-anchor="middle" transform="rotate(9 601.5 2538.9)" font-family="Liberation Sans" fill="#0D0B0A" stroke="#0D0B0A" stroke-width="0.8">AI</text>
<text x="588" y="2622" font-size="52" text-anchor="middle" transform="rotate(16 588 2603.3)" font-family="Liberation Sans" fill="#0D0B0A" stroke="#0D0B0A" stroke-width="0.8" textLength="455" lengthAdjust="spacingAndGlyphs">verzamelnaam voor</text>
<text x="567.7" y="2700" font-size="52" text-anchor="middle" transform="rotate(14.5 567.7 2681.3)" font-family="Liberation Sans" fill="#0D0B0A" stroke="#0D0B0A" stroke-width="0.8" textLength="600" lengthAdjust="spacingAndGlyphs">slimme computer systemen</text>
<text x="517.7" y="2223.4" font-size="40" text-anchor="middle" transform="rotate(-33 517.7 2209)" font-family="Liberation Sans" fill="#0D0B0A" stroke="#0D0B0A" stroke-width="0.8" textLength="150" lengthAdjust="spacingAndGlyphs">hybride</text>
<text x="1020.5" y="2197.5" font-size="40" text-anchor="middle" transform="rotate(-32 1020.5 2183.1)" font-family="Liberation Sans" fill="#0D0B0A" stroke="#0D0B0A" stroke-width="0.8" textLength="210" lengthAdjust="spacingAndGlyphs">symbolisch</text>
<text x="1105.5" y="2216" font-size="40" text-anchor="middle" transform="rotate(-33 1105.5 2201.6)" font-family="Liberation Sans" fill="#0D0B0A" stroke="#0D0B0A" stroke-width="0.8" textLength="322" lengthAdjust="spacingAndGlyphs">regel gebaseerd</text>
<text x="503" y="2915.4" font-size="42" text-anchor="middle" transform="rotate(58.5 503 2900.3)" font-family="Liberation Sans" fill="#0D0B0A" stroke="#0D0B0A" stroke-width="0.8" textLength="335" lengthAdjust="spacingAndGlyphs">machine learning</text>
<text x="517.7" y="3192.7" font-size="42" text-anchor="middle" transform="rotate(45 517.7 3177.5)" font-family="Liberation Sans" fill="#0D0B0A" stroke="#0D0B0A" stroke-width="0.8" textLength="262" lengthAdjust="spacingAndGlyphs">deep learning</text>
<text x="436.4" y="3203.8" font-size="42" text-anchor="middle" transform="rotate(52 436.4 3188.6)" font-family="Liberation Sans" fill="#0D0B0A" stroke="#0D0B0A" stroke-width="0.8" textLength="432" lengthAdjust="spacingAndGlyphs">large language model</text>
<g transform="translate(1250,2380) scale(0.75724)">
<path d="M560,45 L1310,38 C1420,40 1520,70 1555,130 C1585,190 1590,260 1570,300 C1550,320 1520,322 1480,322 L1290,322 C1270,340 1265,380 1265,420 L1290,1100 C1292,1200 1285,1290 1240,1360 C1200,1410 1120,1420 1000,1420 L150,1420 C90,1410 60,1370 40,1300 C20,1240 10,1190 10,1140 L350,1140 L345,350 C345,200 380,110 440,70 C480,50 520,45 560,45 Z" fill="#EDC8A6"/>
<path d="M560,45 L1310,38 C1420,40 1520,70 1555,130 C1585,190 1590,260 1570,300 C1550,320 1520,322 1480,322 L1290,322 C1270,340 1265,380 1265,420 L1290,1100 C1292,1200 1285,1290 1240,1360 C1200,1410 1120,1420 1000,1420 L150,1420 C90,1410 60,1370 40,1300 C20,1240 10,1190 10,1140 L350,1140 L345,350 C345,200 380,110 440,70 C480,50 520,45 560,45 Z" fill="#B08060" filter="url(#paper)" opacity="0.16"/>
<path d="M1300,80 C1400,50 1500,80 1550,140 C1580,200 1585,270 1565,300 C1540,320 1500,322 1450,322 L1290,322 C1260,250 1265,150 1300,80 Z" fill="#CFAA86" opacity="0.7" filter="url(#blur8)"/>
</g>
<g transform="translate(1500,2420) scale(0.46211)" fill="none" stroke-linecap="round" stroke-linejoin="round">
<path d="M200,140 Q195,220 205,300 M130,185 Q180,130 250,140 Q300,160 285,200 Q260,225 215,225 M390,205 Q350,185 310,215 Q290,250 330,262 Q370,265 395,240 M395,200 Q393,235 400,262 M475,175 Q440,165 425,190 Q440,215 470,225 Q480,255 435,265 Q415,265 405,255 M600,240 Q595,120 640,100 Q680,105 685,160 L690,240 M605,180 L680,178 M720,110 L775,112 M745,112 L750,225 M720,228 L775,228 M905,140 Q860,130 850,160 Q860,190 890,200 Q905,230 860,240 Q835,238 838,225 M955,95 L945,220 M1000,160 L995,215 M1005,125 L1005,126 M1050,215 L1048,150 Q1075,135 1090,160 L1093,190 M1090,160 Q1110,135 1135,155 L1140,210 M1255,75 L1262,205 Q1270,220 1290,215 M1225,125 L1290,130 M1350,140 Q1390,142 1390,175 Q1388,210 1350,210 Q1312,208 1312,175 Q1314,142 1350,140 Z M1405,195 L1485,180 Q1470,140 1425,150 Q1400,170 1415,205 Q1445,225 1480,205" stroke="#E27D54" stroke-width="30"/>
<path d="M200,140 Q195,220 205,300 M130,185 Q180,130 250,140 Q300,160 285,200 Q260,225 215,225 M390,205 Q350,185 310,215 Q290,250 330,262 Q370,265 395,240 M395,200 Q393,235 400,262 M475,175 Q440,165 425,190 Q440,215 470,225 Q480,255 435,265 Q415,265 405,255 M600,240 Q595,120 640,100 Q680,105 685,160 L690,240 M605,180 L680,178 M720,110 L775,112 M745,112 L750,225 M720,228 L775,228 M905,140 Q860,130 850,160 Q860,190 890,200 Q905,230 860,240 Q835,238 838,225 M955,95 L945,220 M1000,160 L995,215 M1005,125 L1005,126 M1050,215 L1048,150 Q1075,135 1090,160 L1093,190 M1090,160 Q1110,135 1135,155 L1140,210 M1255,75 L1262,205 Q1270,220 1290,215 M1225,125 L1290,130 M1350,140 Q1390,142 1390,175 Q1388,210 1350,210 Q1312,208 1312,175 Q1314,142 1350,140 Z M1405,195 L1485,180 Q1470,140 1425,150 Q1400,170 1415,205 Q1445,225 1480,205" stroke="#F7B47E" stroke-width="17"/>
</g>
<text x="1534" y="2662.5" font-size="46" font-family="Liberation Sans" fill="#46423C" textLength="653.5" lengthAdjust="spacingAndGlyphs"># keuze AI tool past bij toepassing</text>
<text x="1534" y="2719.3" font-size="46" font-family="Liberation Sans" fill="#46423C" textLength="321.8" lengthAdjust="spacingAndGlyphs"># begrijp type AI</text>
<text x="1534" y="2776.1" font-size="46" font-family="Liberation Sans" fill="#46423C" textLength="344.5" lengthAdjust="spacingAndGlyphs"># check data bron</text>
<text x="1534" y="2832.9" font-size="46" font-family="Liberation Sans" fill="#46423C" textLength="368.8" lengthAdjust="spacingAndGlyphs"># anonimiseer input</text>
<text x="1534" y="2889.7" font-size="46" font-family="Liberation Sans" fill="#46423C" textLength="527.8" lengthAdjust="spacingAndGlyphs"># gebruik AI ondersteunend</text>
<text x="1534" y="2946.5" font-size="46" font-family="Liberation Sans" fill="#46423C" textLength="478.6" lengthAdjust="spacingAndGlyphs"># houd rekening met bias</text>
<text x="1534" y="3003.3" font-size="46" font-family="Liberation Sans" fill="#46423C" textLength="508.9" lengthAdjust="spacingAndGlyphs"># vertrouw niet blind op AI</text>
<text x="1534" y="3060.1" font-size="46" font-family="Liberation Sans" fill="#46423C" textLength="427.8" lengthAdjust="spacingAndGlyphs"># voorspellen &#8800; begrip</text>
<text x="1534" y="3116.9" font-size="46" font-family="Liberation Sans" fill="#46423C" textLength="321.8" lengthAdjust="spacingAndGlyphs"># verifieer output</text>
<g transform="translate(1680,2020) scale(0.30807)">
<path d="M170,230 Q230,270 280,280 Q330,180 470,135 Q560,140 600,185 Q660,150 712,85 Q760,140 740,235 Q810,300 800,400 Q790,450 770,470 L870,470 Q960,540 1060,720 Q1180,900 1300,1080 Q1240,1060 1200,1040 L1230,1200 L1130,1100 L1100,1150 L1000,950 L985,1160 L830,1170 L820,1080 Q600,1060 420,990 Q300,900 285,780 Q270,680 330,610 Q260,540 235,470 Q200,380 200,310 Q180,260 170,230 Z" fill="#C5B596" transform="translate(22,26)"/>
<path d="M70,1225 Q180,1180 280,1150 Q500,1180 700,1210 Q740,1180 770,1170 L1000,1160 Q1020,1210 1040,1212 L1500,1222 Q1300,1270 1050,1290 L600,1295 Q400,1280 290,1260 Q220,1300 165,1350 Q180,1300 230,1230 Q150,1225 70,1225 Z" fill="#C5B596" transform="translate(18,22)"/>
<path d="M170,230 Q230,270 280,280 Q330,180 470,135 Q560,140 600,185 Q660,150 712,85 Q760,140 740,235 Q810,300 800,400 Q790,450 770,470 L870,470 Q960,540 1060,720 Q1180,900 1300,1080 Q1240,1060 1200,1040 L1230,1200 L1130,1100 L1100,1150 L1000,950 L985,1160 L830,1170 L820,1080 Q600,1060 420,990 Q300,900 285,780 Q270,680 330,610 Q260,540 235,470 Q200,380 200,310 Q180,260 170,230 Z" fill="#F0A460" stroke="#A8346A" stroke-width="11" stroke-linejoin="round"/>
<path d="M640,585 Q680,500 790,485 L870,470 Q960,540 1060,720 Q1180,900 1300,1080 Q1150,1000 1050,950 Q900,890 800,870 Q690,800 650,720 Q630,650 640,585 Z" fill="#EFA05C" stroke="#A8346A" stroke-width="9" stroke-linejoin="round"/>
<path d="M600,620 Q640,780 760,860 Q900,930 1050,960" fill="none" stroke="#E08A48" stroke-width="50" opacity="0.6" filter="url(#blur8)"/>
<circle cx="370" cy="490" r="75" fill="#D9783A" opacity="0.55" filter="url(#blur20)"/>
<circle cx="700" cy="410" r="75" fill="#D9783A" opacity="0.55" filter="url(#blur20)"/>
<circle cx="390" cy="390" r="72" fill="#FFF8EE" stroke="#A8346A" stroke-width="9"/>
<circle cx="393" cy="395" r="35" fill="#A8346A"/>
<circle cx="605" cy="340" r="75" fill="#FFF8EE" stroke="#A8346A" stroke-width="9"/>
<circle cx="608" cy="345" r="37" fill="#A8346A"/>
<path d="M515,425 Q560,450 548,520 L555,570 Q500,520 485,465 Q490,430 515,425 Z" fill="#F6C59A" stroke="#A8346A" stroke-width="8"/>
<path d="M350,690 Q400,680 420,650" fill="none" stroke="#A8346A" stroke-width="8" stroke-linecap="round"/>
<path d="M420,730 Q500,720 550,690" fill="none" stroke="#A8346A" stroke-width="8" stroke-linecap="round"/>
<path d="M380,830 Q450,810 490,790" fill="none" stroke="#A8346A" stroke-width="8" stroke-linecap="round"/>
<path d="M520,870 Q580,860 610,840" fill="none" stroke="#A8346A" stroke-width="8" stroke-linecap="round"/>
<path d="M520,980 Q580,960 610,940" fill="none" stroke="#A8346A" stroke-width="8" stroke-linecap="round"/>
<path d="M700,1000 Q750,980 780,950" fill="none" stroke="#A8346A" stroke-width="8" stroke-linecap="round"/>
<path d="M650,880 Q700,860 740,840" fill="none" stroke="#A8346A" stroke-width="8" stroke-linecap="round"/>
<path d="M520,640 Q560,630 590,610" fill="none" stroke="#A8346A" stroke-width="8" stroke-linecap="round"/>
<path d="M790,1020 Q820,1010 850,990" fill="none" stroke="#A8346A" stroke-width="8" stroke-linecap="round"/>
<path d="M710,680 Q740,720 770,715 Q780,690 770,670" fill="none" stroke="#A8346A" stroke-width="8" stroke-linecap="round"/>
<path d="M820,680 Q850,720 875,715 Q880,690 870,660" fill="none" stroke="#A8346A" stroke-width="8" stroke-linecap="round"/>
<path d="M930,650 Q950,700 970,720 Q975,690 960,660" fill="none" stroke="#A8346A" stroke-width="8" stroke-linecap="round"/>
<path d="M800,760 Q830,800 860,800 Q870,780 855,750" fill="none" stroke="#A8346A" stroke-width="8" stroke-linecap="round"/>
<path d="M740,540 Q780,530 800,550" fill="none" stroke="#A8346A" stroke-width="8" stroke-linecap="round"/>
<path d="M670,580 Q700,560 740,580" fill="none" stroke="#A8346A" stroke-width="8" stroke-linecap="round"/>
<path d="M1000,800 Q1050,900 1100,960" fill="none" stroke="#A8346A" stroke-width="8" stroke-linecap="round"/>
<path d="M1050,780 Q1100,880 1160,980" fill="none" stroke="#A8346A" stroke-width="8" stroke-linecap="round"/>
<path d="M70,1225 Q180,1180 280,1150 Q500,1180 700,1210 Q740,1180 770,1170 L1000,1160 Q1020,1210 1040,1212 L1500,1222 Q1300,1270 1050,1290 L600,1295 Q400,1280 290,1260 Q220,1300 165,1350 Q180,1300 230,1230 Q150,1225 70,1225 Z" fill="#D46C4E" stroke="#A8346A" stroke-width="10" stroke-linejoin="round"/>
<path d="M330,1195 Q380,1180 410,1195 Q380,1215 350,1200" fill="none" stroke="#A8346A" stroke-width="7"/>
<path d="M770,1175 Q800,1230 830,1220 M880,1170 L890,1220 M940,1165 Q960,1200 990,1190" fill="none" stroke="#A8346A" stroke-width="6"/>
<path d="M180,1060 Q195,1110 200,1145" fill="none" stroke="#A8346A" stroke-width="8"/>
<path d="M150,990 Q215,1010 220,1060 Q180,1080 160,1040 Q148,1010 150,990 Z" fill="#EE9A58" stroke="#A8346A" stroke-width="8"/>
<path d="M290,1060 Q250,1120 205,1130 Q230,1080 290,1060 Z" fill="#EE9A58" stroke="#A8346A" stroke-width="8"/>
</g>
<g transform="translate(2400.4,3295.5) scale(0.21) translate(-427.2,-317.2)" opacity="0.45"><line x1="449.4" y1="133.1" x2="461.6" y2="77.6" stroke="#000" stroke-width="5" stroke-linecap="round"/>
<line x1="321.8" y1="143.1" x2="299.6" y2="100.9" stroke="#000" stroke-width="5" stroke-linecap="round"/>
<line x1="213.7" y1="254" x2="144.4" y2="217.4" stroke="#000" stroke-width="5" stroke-linecap="round"/>
<line x1="227.5" y1="415.9" x2="166.5" y2="439.2" stroke="#000" stroke-width="5" stroke-linecap="round"/>
<line x1="377.3" y1="524" x2="356.2" y2="592.2" stroke="#000" stroke-width="5" stroke-linecap="round"/>
<line x1="571.3" y1="476.9" x2="607.4" y2="533.5" stroke="#000" stroke-width="5" stroke-linecap="round"/>
<line x1="646.2" y1="321.6" x2="715.5" y2="318.9" stroke="#000" stroke-width="5" stroke-linecap="round"/>
<line x1="599.1" y1="188.5" x2="657.3" y2="152.5" stroke="#000" stroke-width="5" stroke-linecap="round"/>
<circle cx="461.6" cy="77.6" r="17.7" fill="#5E3173" stroke="#000" stroke-width="4.5"/>
<circle cx="299.6" cy="100.9" r="16.6" fill="#5E3173" stroke="#000" stroke-width="4.5"/>
<circle cx="144.4" cy="217.4" r="17.7" fill="#5E3173" stroke="#000" stroke-width="4.5"/>
<circle cx="166.5" cy="439.2" r="18.9" fill="#5E3173" stroke="#000" stroke-width="4.5"/>
<circle cx="356.2" cy="592.2" r="20" fill="#5E3173" stroke="#000" stroke-width="4.5"/>
<circle cx="607.4" cy="533.5" r="21.1" fill="#5E3173" stroke="#000" stroke-width="4.5"/>
<circle cx="715.5" cy="318.9" r="17.7" fill="#5E3173" stroke="#000" stroke-width="4.5"/>
<circle cx="657.3" cy="152.5" r="14.4" fill="#5E3173" stroke="#000" stroke-width="4.5"/>
<path d="M407.8,133.1 L495.4,133.1 L478.7,183 L529.8,196.9 L568.6,165.2 L626.8,221.8 L585.2,249.5 L604.6,299.4 L640.7,287.2 L650.6,366 L593.5,377.1 L571.3,432.5 L601.8,459.1 L532.5,507.4 L493.7,459.1 L435.5,465.8 L418.9,532.3 L338.4,509.1 L360.6,460.3 L305.2,429.8 L247,448.1 L213.7,388.2 L265.2,357.7 L258,296.7 L191.5,291.1 L237.5,213.5 L299.6,227.4 L321.8,196.9 L298.5,158 L346.8,132 L352.3,183 L405,174.7 Z" fill="#E8C5B2" stroke="#000" stroke-width="5" stroke-linejoin="round"/>
<circle cx="427.2" cy="317.2" r="106.5" fill="#5E3173" stroke="#000" stroke-width="5"/>
<path d="M249.7,119.2 Q241.4,99.8 252.5,83.2" fill="none" stroke="#000" stroke-width="4" stroke-linecap="round"/>
<path d="M269.1,113.7 Q260.8,97 271.9,80.4" fill="none" stroke="#000" stroke-width="4" stroke-linecap="round"/>
<path d="M313.5,88.7 Q321.8,77.6 319,66.5" fill="none" stroke="#000" stroke-width="4" stroke-linecap="round"/>
<path d="M324.6,77.6 Q332.9,69.3 331.8,58.2" fill="none" stroke="#000" stroke-width="4" stroke-linecap="round"/>
<path d="M651.8,119.2 Q665.6,113.7 681.1,119.2" fill="none" stroke="#000" stroke-width="4" stroke-linecap="round"/>
<path d="M654.5,106.5 Q665.6,99.8 673.9,104.3" fill="none" stroke="#000" stroke-width="4" stroke-linecap="round"/>
<path d="M662.8,183 Q682.3,183 697.8,174.7" fill="none" stroke="#000" stroke-width="4" stroke-linecap="round"/>
<path d="M671.2,196.9 Q685,195.2 694.5,188.5" fill="none" stroke="#000" stroke-width="4" stroke-linecap="round"/>
<path d="M127.7,429.8 Q133.3,407.6 161,398.2" fill="none" stroke="#000" stroke-width="4" stroke-linecap="round"/>
<path d="M138.8,410.4 Q144.4,396.5 149.9,393.7" fill="none" stroke="#000" stroke-width="4" stroke-linecap="round"/>
<path d="M161,485.2 Q183.2,479.7 199.8,465.8" fill="none" stroke="#000" stroke-width="4" stroke-linecap="round"/>
<path d="M169.3,496.3 Q180.4,493.5 189.8,488" fill="none" stroke="#000" stroke-width="4" stroke-linecap="round"/>
<path d="M649,521.3 Q651.8,510.2 646.2,501.8" fill="none" stroke="#000" stroke-width="4" stroke-linecap="round"/>
<path d="M661.2,507.4 Q666.7,499.1 664.5,490.8" fill="none" stroke="#000" stroke-width="4" stroke-linecap="round"/>
<path d="M576.9,573.9 Q585.2,587.8 600.2,576.7" fill="none" stroke="#000" stroke-width="4" stroke-linecap="round"/>
<path d="M585.2,560.1 Q593.5,571.2 601.8,565.6" fill="none" stroke="#000" stroke-width="4" stroke-linecap="round"/>
<path d="M716.6,598.9 Q710,579.5 718.3,565.6" fill="none" stroke="#000" stroke-width="4" stroke-linecap="round"/>
<path d="M736.6,604.4 Q729.4,585 746,565.6" fill="none" stroke="#000" stroke-width="4" stroke-linecap="round"/>
<path d="M843.1,521.3 Q856.9,529.6 856.9,546.2" fill="none" stroke="#000" stroke-width="4" stroke-linecap="round"/>
<path d="M868,501.8 Q881.9,510.2 881.9,532.3" fill="none" stroke="#000" stroke-width="4" stroke-linecap="round"/>
<g transform="translate(352.3,318.9) rotate(-10.0) scale(48.80) translate(-0.36,-0.56)" fill="none" stroke-linecap="round" stroke-linejoin="round"><path d="M0,1 C0.03,0.45 0.1,0.12 0.23,0.12 C0.36,0.12 0.43,0.45 0.46,1 M0.08,0.66 L0.38,0.64 M0.68,0.42 L0.71,1" stroke="#EBD9BE" stroke-width="0.155"/><circle cx="0.65" cy="0.2" r="0.110" fill="#EBD9BE" stroke="none"/><path d="M0,1 C0.03,0.45 0.1,0.12 0.23,0.12 C0.36,0.12 0.43,0.45 0.46,1 M0.08,0.66 L0.38,0.64 M0.68,0.42 L0.71,1" stroke="#000" stroke-width="0.085"/><circle cx="0.65" cy="0.2" r="0.075" fill="#000" stroke="none"/></g>
<g transform="translate(402.2,363.2) rotate(-20.0) scale(49.91) translate(-0.36,-0.56)" fill="none" stroke-linecap="round" stroke-linejoin="round"><path d="M0,1 C0.03,0.45 0.1,0.12 0.23,0.12 C0.36,0.12 0.43,0.45 0.46,1 M0.08,0.66 L0.38,0.64 M0.68,0.42 L0.71,1" stroke="#EBD9BE" stroke-width="0.155"/><circle cx="0.65" cy="0.2" r="0.110" fill="#EBD9BE" stroke="none"/><path d="M0,1 C0.03,0.45 0.1,0.12 0.23,0.12 C0.36,0.12 0.43,0.45 0.46,1 M0.08,0.66 L0.38,0.64 M0.68,0.42 L0.71,1" stroke="#000" stroke-width="0.085"/><circle cx="0.65" cy="0.2" r="0.075" fill="#000" stroke="none"/></g>
<g transform="translate(461.6,352.1) rotate(-10.0) scale(49.91) translate(-0.36,-0.56)" fill="none" stroke-linecap="round" stroke-linejoin="round"><path d="M0,1 C0.03,0.45 0.1,0.12 0.23,0.12 C0.36,0.12 0.43,0.45 0.46,1 M0.08,0.66 L0.38,0.64 M0.68,0.42 L0.71,1" stroke="#EBD9BE" stroke-width="0.155"/><circle cx="0.65" cy="0.2" r="0.110" fill="#EBD9BE" stroke="none"/><path d="M0,1 C0.03,0.45 0.1,0.12 0.23,0.12 C0.36,0.12 0.43,0.45 0.46,1 M0.08,0.66 L0.38,0.64 M0.68,0.42 L0.71,1" stroke="#000" stroke-width="0.085"/><circle cx="0.65" cy="0.2" r="0.075" fill="#000" stroke="none"/></g>
<g transform="translate(503.7,302.2) rotate(-12.0) scale(48.80) translate(-0.36,-0.56)" fill="none" stroke-linecap="round" stroke-linejoin="round"><path d="M0,1 C0.03,0.45 0.1,0.12 0.23,0.12 C0.36,0.12 0.43,0.45 0.46,1 M0.08,0.66 L0.38,0.64 M0.68,0.42 L0.71,1" stroke="#EBD9BE" stroke-width="0.155"/><circle cx="0.65" cy="0.2" r="0.110" fill="#EBD9BE" stroke="none"/><path d="M0,1 C0.03,0.45 0.1,0.12 0.23,0.12 C0.36,0.12 0.43,0.45 0.46,1 M0.08,0.66 L0.38,0.64 M0.68,0.42 L0.71,1" stroke="#000" stroke-width="0.085"/><circle cx="0.65" cy="0.2" r="0.075" fill="#000" stroke="none"/></g>
<g transform="translate(466.0,249.5) rotate(-8.0) scale(28.84) translate(-0.36,-0.56)" fill="none" stroke-linecap="round" stroke-linejoin="round"><path d="M0,1 C0.03,0.45 0.1,0.12 0.23,0.12 C0.36,0.12 0.43,0.45 0.46,1 M0.08,0.66 L0.38,0.64 M0.68,0.42 L0.71,1" stroke="#EBD9BE" stroke-width="0.155"/><circle cx="0.65" cy="0.2" r="0.110" fill="#EBD9BE" stroke="none"/><path d="M0,1 C0.03,0.45 0.1,0.12 0.23,0.12 C0.36,0.12 0.43,0.45 0.46,1 M0.08,0.66 L0.38,0.64 M0.68,0.42 L0.71,1" stroke="#000" stroke-width="0.085"/><circle cx="0.65" cy="0.2" r="0.075" fill="#000" stroke="none"/></g>
<g transform="translate(385.6,260.6) rotate(-5.0) scale(19.96) translate(-0.36,-0.56)" fill="none" stroke-linecap="round" stroke-linejoin="round"><path d="M0,1 C0.03,0.45 0.1,0.12 0.23,0.12 C0.36,0.12 0.43,0.45 0.46,1 M0.08,0.66 L0.38,0.64 M0.68,0.42 L0.71,1" stroke="#EBD9BE" stroke-width="0.155"/><circle cx="0.65" cy="0.2" r="0.110" fill="#EBD9BE" stroke="none"/><path d="M0,1 C0.03,0.45 0.1,0.12 0.23,0.12 C0.36,0.12 0.43,0.45 0.46,1 M0.08,0.66 L0.38,0.64 M0.68,0.42 L0.71,1" stroke="#000" stroke-width="0.085"/><circle cx="0.65" cy="0.2" r="0.075" fill="#000" stroke="none"/></g></g>
<g transform="translate(2150,3180) scale(0.20271)" fill="none" stroke="#7A5893" stroke-linecap="round" stroke-linejoin="round">
<path stroke-width="16" d="M310,1045 C370,1030 425,985 418,935 C410,880 320,870 268,905 C205,950 215,1060 228,1150 C240,1250 248,1340 245,1415 C262,1335 298,1292 338,1295 C380,1298 388,1355 392,1400 C398,1440 445,1448 480,1438 C525,1422 530,1360 495,1318 C462,1290 418,1318 422,1370 C428,1425 470,1445 525,1442 C560,1440 585,1425 595,1405 C585,1350 610,1310 650,1310 C695,1312 705,1360 695,1405 C685,1440 610,1450 592,1405 M700,1335 C702,1380 700,1420 715,1435 C745,1450 790,1410 810,1320 C835,1200 840,1100 850,1000 C870,900 930,830 1000,795 L1050,770"/>
<path stroke-width="16" d="M1090,700 C1080,600 1110,500 1160,460 C1220,415 1320,420 1350,480 C1380,560 1340,640 1270,680 C1210,700 1150,710 1100,720"/>
<ellipse cx="1020" cy="775" rx="22" ry="48" transform="rotate(50 1020 775)" stroke-width="14"/>
<ellipse cx="1048" cy="753" rx="22" ry="48" transform="rotate(50 1048 753)" stroke-width="14"/>
<ellipse cx="1076" cy="731" rx="22" ry="48" transform="rotate(50 1076 731)" stroke-width="14"/>
<ellipse cx="1104" cy="709" rx="22" ry="48" transform="rotate(50 1104 709)" stroke-width="14"/>
<path stroke-width="22" d="M1140,600 C1180,560 1230,520 1260,560 C1280,590 1220,620 1200,600 C1240,580 1290,590 1280,620"/>
</g>
</svg></body></html>
